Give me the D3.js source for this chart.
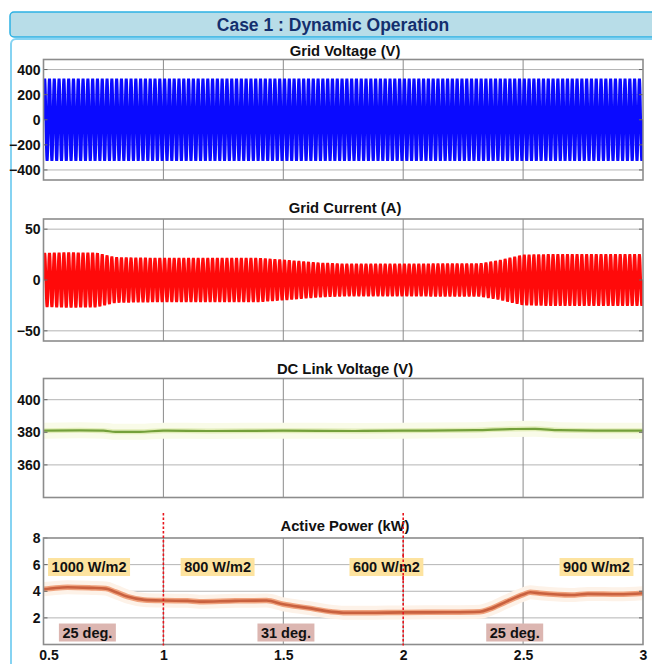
<!DOCTYPE html>
<html><head><meta charset="utf-8">
<script src="https://cdn.jsdelivr.net/npm/d3@7"></script>
<style>body{margin:0;background:#fff}svg{display:block;font-family:"Liberation Sans",Arial,Helvetica,sans-serif}</style>
</head><body><svg id="chart" width="652" height="664"></svg>
<script>
// ---------- data ----------
const chartTitle = "Case 1 : Dynamic Operation";
const panelTitles = ["Grid Voltage (V)", "Grid Current (A)", "DC Link Voltage (V)", "Active Power (kW)"];
const xTicks = [0.5, 1, 1.5, 2, 2.5, 3];
const voltageTicks = [400, 200, 0, -200, -400];
const currentTicks = [50, 0, -50];
const dcTicks = [400, 380, 360];
const powerTicks = [8, 6, 4, 2];
const gridFrequency = 50; // Hz
// envelope (peak amplitude) of the AC quantities
const voltageEnvT = [0.5, 3.0];
const voltageEnvA = [325, 325];
const currentEnvT = [0.5, 0.6, 0.72, 0.8, 0.9, 1.0, 1.4, 1.5, 1.65, 1.75, 2.0, 2.32, 2.4, 2.5, 2.6, 3.0];
const currentEnvA = [26.2, 26.8, 26.5, 22.0, 21.5, 21.3, 21.2, 19.5, 16.5, 15.5, 15.5, 15.8, 19.0, 24.5, 25.0, 25.0];
// DC link voltage
const dcT = [0.5, 0.65, 0.75, 0.8, 0.9, 1.0, 1.2, 1.5, 1.8, 2.0, 2.3, 2.45, 2.55, 2.65, 2.8, 3.0];
const dcV = [381.0, 381.2, 381.0, 380.3, 380.3, 381.0, 380.8, 381.0, 380.8, 381.0, 381.3, 382.0, 382.1, 381.3, 381.0, 381.0];
// active power
const powerT = [0.5, 0.55, 0.6, 0.7, 0.76, 0.8, 0.85, 0.92, 1.0, 1.1, 1.15, 1.3, 1.43, 1.5, 1.6, 1.7, 1.75, 1.85, 2.0, 2.2, 2.32, 2.36, 2.43, 2.5, 2.53, 2.57, 2.7, 2.77, 2.9, 3.0];
const powerV = [4.15, 4.25, 4.3, 4.25, 4.2, 3.95, 3.6, 3.35, 3.3, 3.28, 3.22, 3.28, 3.3, 3.02, 2.75, 2.46, 2.39, 2.38, 2.41, 2.42, 2.46, 2.66, 3.22, 3.75, 3.92, 3.85, 3.72, 3.8, 3.77, 3.85];
// annotations (data coordinates of the active power panel)
const irradianceLabels = ["1000 W/m2", "800 W/m2", "600 W/m2", "900 W/m2"];
const irradianceT = [0.69, 1.226, 1.93, 2.806];
const irradianceY = 5.82;
const temperatureLabels = ["25 deg.", "31 deg.", "25 deg."];
const temperatureT = [0.683, 1.511, 2.465];
const temperatureY = 0.9;
const stepTimes = [1, 2];

// ---------- layout ----------
const svg = d3.select("#chart");
const X0 = 43.5, X1 = 643;
const x = d3.scaleLinear().domain([0.5, 3]).range([X0, X1]);

// frame
svg.append("rect").attr("x", 11).attr("y", 39).attr("width", 680).attr("height", 660).attr("rx", 5)
  .attr("fill", "#fff").attr("stroke", "#86d3f2").attr("stroke-width", 2);
svg.append("rect").attr("x", 10).attr("y", 12).attr("width", 680).attr("height", 25).attr("rx", 4)
  .attr("fill", "#b8dde8").attr("stroke", "#2cb1e3").attr("stroke-width", 1.5);
svg.append("text").attr("x", 333).attr("y", 30.5).attr("text-anchor", "middle")
  .attr("font-size", 17.5).attr("font-weight", "bold").attr("fill", "#142f6e").text(chartTitle);

const panels = [
  {top: 59.5, bottom: 180, domain: [-480, 480], ticks: voltageTicks, titleY: 56},
  {top: 219, bottom: 341, domain: [-60, 60], ticks: currentTicks, titleY: 213},
  {top: 378.5, bottom: 497.5, domain: [340, 413], ticks: dcTicks, titleY: 374},
  {top: 538, bottom: 644.5, domain: [0, 8], ticks: powerTicks, titleY: 531}
];

panels.forEach((p, i) => {
  p.y = d3.scaleLinear().domain(p.domain).range([p.bottom, p.top]);
  const g = svg.append("g");
  p.g = g;
  g.append("rect").attr("x", X0).attr("y", p.top).attr("width", X1 - X0).attr("height", p.bottom - p.top).attr("fill", "#fff");
  // horizontal grid
  g.selectAll(".hg").data(p.ticks.filter(t => p.y(t) > p.top + 1)).join("line")
    .attr("x1", X0).attr("x2", X1).attr("y1", d => p.y(d)).attr("y2", d => p.y(d))
    .attr("stroke", "#b4b4b4").attr("stroke-width", 1);
  // vertical grid
  g.selectAll(".vg").data(xTicks.slice(1, -1)).join("line")
    .attr("x1", d => x(d)).attr("x2", d => x(d)).attr("y1", p.top).attr("y2", p.bottom)
    .attr("stroke", "#8a8a8a").attr("stroke-width", 1);
  // clip
  svg.append("clipPath").attr("id", "clip" + i).append("rect")
    .attr("x", X0).attr("y", p.top).attr("width", X1 - X0).attr("height", p.bottom - p.top);
  p.plot = g.append("g").attr("clip-path", `url(#clip${i})`);
  // title
  svg.append("text").attr("x", 345).attr("y", p.titleY).attr("text-anchor", "middle")
    .attr("font-size", 14.8).attr("font-weight", "bold").attr("fill", "#111").text(panelTitles[i]);
});

// AC waveforms: 50 Hz carrier modulated by the envelope
function acSeries(envT, envA) {
  const env = d3.scaleLinear().domain(envT).range(envA);
  const pts = [];
  const n = Math.round((3 - 0.5) * gridFrequency * 40);
  for (let k = 0; k <= n; k++) {
    const t = 0.5 + k * (2.5 / n);
    pts.push([t, env(t) * Math.sin(2 * Math.PI * gridFrequency * t)]);
  }
  return pts;
}
const p0 = panels[0], p1 = panels[1], p2 = panels[2], p3 = panels[3];
p0.plot.append("path").datum(acSeries(voltageEnvT, voltageEnvA))
  .attr("d", d3.line().x(d => x(d[0])).y(d => p0.y(d[1])))
  .attr("fill", "none").attr("stroke", "#0a0aff").attr("stroke-width", 2.9).attr("stroke-linejoin", "bevel");
p1.plot.append("path").datum(acSeries(currentEnvT, currentEnvA))
  .attr("d", d3.line().x(d => x(d[0])).y(d => p1.y(d[1])))
  .attr("fill", "none").attr("stroke", "#ff0a0a").attr("stroke-width", 2.9).attr("stroke-linejoin", "bevel");

// DC link voltage
const dcData = dcT.map((t, k) => [t, dcV[k]]);
const dcL = d3.line().x(d => x(d[0])).y(d => p2.y(d[1])).curve(d3.curveMonotoneX);
p2.plot.append("path").datum(dcData).attr("d", dcL).attr("fill", "none").attr("stroke", "#f9fbe8").attr("stroke-width", 16);
p2.plot.append("path").datum(dcData).attr("d", dcL).attr("fill", "none").attr("stroke", "#e2edb8").attr("stroke-width", 5);
p2.plot.append("path").datum(dcData).attr("d", dcL).attr("fill", "none").attr("stroke", "#74a03a").attr("stroke-width", 2.2);

// Active power
const pwData = powerT.map((t, k) => [t, powerV[k]]);
const pwL = d3.line().x(d => x(d[0])).y(d => p3.y(d[1])).curve(d3.curveMonotoneX);
p3.plot.append("path").datum(pwData).attr("d", pwL).attr("fill", "none").attr("stroke", "#fdf2e8").attr("stroke-width", 14);
p3.plot.append("path").datum(pwData).attr("d", pwL).attr("fill", "none").attr("stroke", "#f0a37e").attr("stroke-width", 5.5);
p3.plot.append("path").datum(pwData).attr("d", pwL).attr("fill", "none").attr("stroke", "#c9613f").attr("stroke-width", 2.6);

// frames, ticks and y labels
panels.forEach(p => {
  const g = p.g;
  g.selectAll(".tl").data(p.ticks).join("line")
    .attr("x1", X0).attr("x2", X0 + 4).attr("y1", d => p.y(d)).attr("y2", d => p.y(d)).attr("stroke", "#666");
  g.selectAll(".tr").data(p.ticks).join("line")
    .attr("x1", X1 - 4).attr("x2", X1).attr("y1", d => p.y(d)).attr("y2", d => p.y(d)).attr("stroke", "#666");
  g.append("rect").attr("x", X0).attr("y", p.top).attr("width", X1 - X0).attr("height", p.bottom - p.top)
    .attr("fill", "none").attr("stroke", "#8c8c8c").attr("stroke-width", 1.6);
  const ax = svg.append("g").attr("transform", `translate(${X0 - 1},0)`)
    .call(d3.axisLeft(p.y).tickValues(p.ticks).tickSize(0).tickPadding(2).tickFormat(d3.format("d")));
  ax.select(".domain").remove();
  ax.selectAll("text").attr("font-size", 14).attr("font-weight", "bold").attr("fill", "#111")
    .attr("font-family", '"Liberation Sans",Arial,sans-serif');
});

// x axis
const xa = svg.append("g").attr("transform", `translate(0,${p3.bottom})`)
  .call(d3.axisBottom(x).tickValues(xTicks).tickSize(0).tickPadding(6).tickFormat(d => String(d)));
xa.select(".domain").remove();
xa.selectAll("text").attr("font-size", 14).attr("font-weight", "bold").attr("fill", "#111")
  .attr("font-family", '"Liberation Sans",Arial,sans-serif')
  .attr("dx", d => d === 0.5 ? 5 : 0);

// step markers
svg.selectAll(".step").data(stepTimes).join("line")
  .attr("x1", d => x(d)).attr("x2", d => x(d)).attr("y1", 513).attr("y2", p3.bottom + 1)
  .attr("stroke", "#e8141c").attr("stroke-width", 1.6).attr("stroke-dasharray", "2.5,2");

// annotation boxes
function box(label, t, yv, fill) {
  const g = svg.append("g");
  const tx = g.append("text").attr("x", x(t)).attr("y", p3.y(yv)).attr("dy", "0.36em")
    .attr("text-anchor", "middle").attr("font-size", 14.5).attr("font-weight", "bold").attr("fill", "#111").text(label);
  const bb = tx.node().getBBox();
  g.insert("rect", "text").attr("x", bb.x - 3.5).attr("y", p3.y(yv) - 9).attr("width", bb.width + 7).attr("height", 18)
    .attr("fill", fill);
}
irradianceLabels.forEach((l, k) => box(l, irradianceT[k], irradianceY, "#fde39f"));
temperatureLabels.forEach((l, k) => box(l, temperatureT[k], temperatureY, "#dcb6b1"));
// the 2 s marker stays visible over the 600 W/m2 box (as in the picture)
svg.selectAll(".step2").data(stepTimes.slice(1)).join("line")
  .attr("x1", d => x(d)).attr("x2", d => x(d)).attr("y1", 555).attr("y2", 580)
  .attr("stroke", "#e8141c").attr("stroke-width", 1.6).attr("stroke-dasharray", "2.5,2");
</script></body></html>
